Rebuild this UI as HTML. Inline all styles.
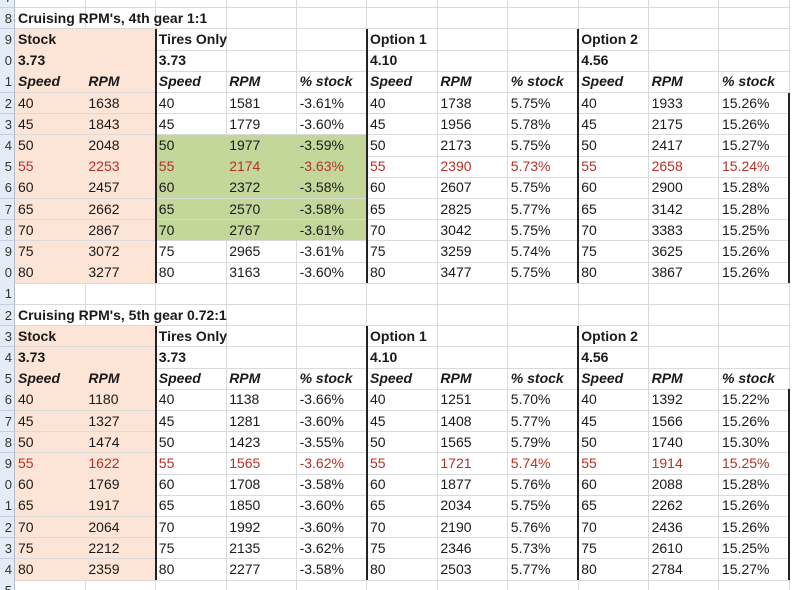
<!DOCTYPE html>
<html><head><meta charset="utf-8">
<style>
html,body{margin:0;padding:0;background:#fff;}
#sheet{position:relative;width:799px;height:590px;overflow:hidden;font-family:"Liberation Sans",Arial,sans-serif;font-size:14px;color:#1a1a1a;}
.c{position:absolute;box-sizing:border-box;border-right:1px solid #dadada;border-bottom:1px solid #dadada;z-index:1;}
.t{position:absolute;box-sizing:border-box;padding-left:3px;line-height:21px;white-space:nowrap;z-index:3;}
.rh{position:absolute;left:0;width:15px;box-sizing:border-box;background:#e4ecf7;border-bottom:1px solid #c5d1e0;border-right:1px solid #b0bccb;color:#333;font-size:13px;line-height:21px;text-align:right;padding-right:2px;overflow:hidden;z-index:4;}
.b{font-weight:bold;}
.h{font-weight:bold;font-style:italic;}
.red{color:#b5312a;}
.vb{position:absolute;width:2px;background:#222;z-index:5;}
</style></head>
<body>
<div id="sheet"></div>
<script>
const speeds=[40,45,50,55,60,65,70,75,80];
const stock4=[1638,1843,2048,2253,2457,2662,2867,3072,3277];
const tires4=[1581,1779,1977,2174,2372,2570,2767,2965,3163];
const tiresPct4=["-3.61%","-3.60%","-3.59%","-3.63%","-3.58%","-3.58%","-3.61%","-3.61%","-3.60%"];
const opt1_4=[1738,1956,2173,2390,2607,2825,3042,3259,3477];
const opt1Pct4=["5.75%","5.78%","5.75%","5.73%","5.75%","5.77%","5.75%","5.74%","5.75%"];
const opt2_4=[1933,2175,2417,2658,2900,3142,3383,3625,3867];
const opt2Pct4=["15.26%","15.26%","15.27%","15.24%","15.28%","15.28%","15.25%","15.26%","15.26%"];
const stock5=[1180,1327,1474,1622,1769,1917,2064,2212,2359];
const tires5=[1138,1281,1423,1565,1708,1850,1992,2135,2277];
const tiresPct5=["-3.66%","-3.60%","-3.55%","-3.62%","-3.58%","-3.60%","-3.60%","-3.62%","-3.58%"];
const opt1_5=[1251,1408,1565,1721,1877,2034,2190,2346,2503];
const opt1Pct5=["5.70%","5.77%","5.79%","5.74%","5.76%","5.75%","5.76%","5.73%","5.77%"];
const opt2_5=[1392,1566,1740,1914,2088,2262,2436,2610,2784];
const opt2Pct5=["15.22%","15.26%","15.30%","15.25%","15.28%","15.26%","15.26%","15.25%","15.27%"];

const sheet=document.getElementById('sheet');
const X0=15,CW=70.4,Y0=7.8,RH=21.2,NCOL=11;
function colX(c){return X0+c*CW;}
function rowY(r){return Y0+(r-8)*RH;}
function cell(r,c,text,cls,bg){
  const d=document.createElement('div');
  d.className='c';
  d.style.left=colX(c)+'px';d.style.top=rowY(r)+'px';
  d.style.width=(CW+0.5)+'px';d.style.height=(RH+0.5)+'px';
  if(bg){d.style.background=bg;d.style.borderRightColor=bg;}
  
  
  sheet.appendChild(d);
  if(text){
    const t=document.createElement('div');
    t.className='t '+(cls||'');
    t.style.left=colX(c)+'px';t.style.top=rowY(r)+'px';
    t.textContent=text;
    
    
    sheet.appendChild(t);
  }
}
const grid={};
function set(r,c,t,cls){grid[r+'_'+c]={t:t,cls:cls||''};}
function block(top,title,st,ti,tp,o1,o1p,o2,o2p){
  set(top,0,title,'b');
  set(top+1,0,'Stock','b');set(top+1,2,'Tires Only','b');set(top+1,5,'Option 1','b');set(top+1,8,'Option 2','b');
  set(top+2,0,'3.73','b');set(top+2,2,'3.73','b');set(top+2,5,'4.10','b');set(top+2,8,'4.56','b');
  const hd=['Speed','RPM','Speed','RPM','% stock','Speed','RPM','% stock','Speed','RPM','% stock'];
  hd.forEach((h,i)=>set(top+3,i,h,'h'));
  for(let i=0;i<speeds.length;i++){
    const r=top+4+i,cl=speeds[i]===55?'red':'';
    const vals=[speeds[i],st[i],speeds[i],ti[i],tp[i],speeds[i],o1[i],o1p[i],speeds[i],o2[i],o2p[i]];
    vals.forEach((v,c)=>set(r,c,String(v),cl));
  }
}
block(8,"Cruising RPM's, 4th gear 1:1",stock4,tires4,tiresPct4,opt1_4,opt1Pct4,opt2_4,opt2Pct4);
block(22,"Cruising RPM's, 5th gear 0.72:1",stock5,tires5,tiresPct5,opt1_5,opt1Pct5,opt2_5,opt2Pct5);

for(let r=7;r<=35;r++){
  const rh=document.createElement('div');
  rh.className='rh';rh.style.top=rowY(r)+'px';rh.style.height=(RH+0.5)+'px';
  rh.textContent=String(r%10);
  
  
  sheet.appendChild(rh);
  for(let c=0;c<NCOL;c++){
    const g=grid[r+'_'+c]||{t:'',cls:''};
    let bg=null;
    const peach=(r>=9&&r<=20)||(r>=23&&r<=34);
    if(c<2&&peach)bg='#fce4d6';
    if(c>=2&&c<=4&&r>=14&&r<=18)bg='#c4d79b';
    cell(r,c,g.t,g.cls,bg);
  }
}
function vline(x,r1,r2,name){
  const v=document.createElement('div');v.className='vb';
  v.style.left=(x-1)+'px';v.style.top=rowY(r1)+'px';v.style.height=(rowY(r2+1)-rowY(r1))+'px';
  
  
  sheet.appendChild(v);
}
[[2,'border-tires'],[5,'border-option1'],[8,'border-option2']].forEach(([c,n])=>{
  vline(colX(c),9,20,n);vline(colX(c),23,34,n);
});
vline(colX(11),12,20,'border-right');vline(colX(11),26,34,'border-right');
</script>
</body></html>
